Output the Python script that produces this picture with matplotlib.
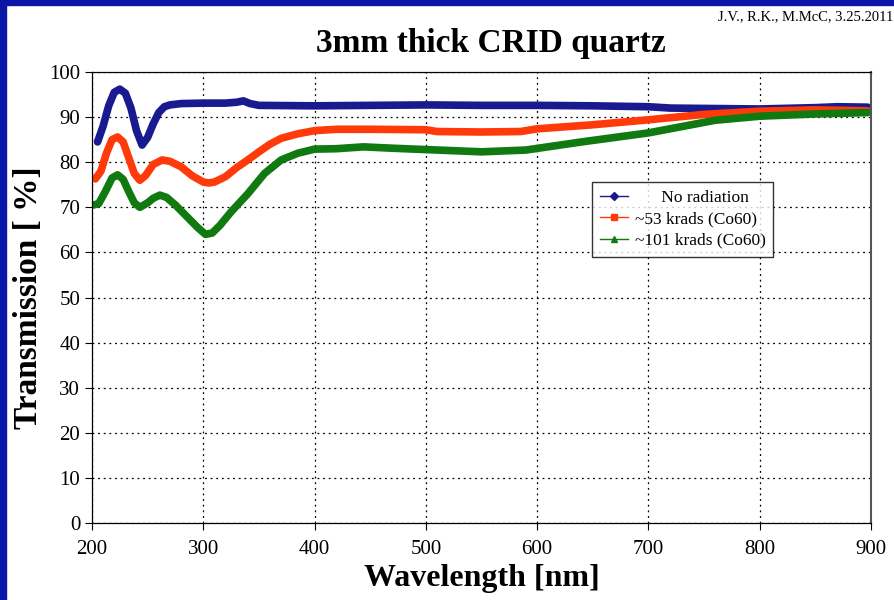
from matplotlib import pyplot as plt
from matplotlib.lines import Line2D

# Datos
wl_none = [205, 210, 215, 220, 225, 230, 235, 240, 245, 250, 255, 260, 265, 270, 280, 300,
           320, 330, 336, 342, 350, 400, 450, 500, 550, 600, 650, 700, 720, 800, 850, 870, 897]
t_none = [84.5, 88, 92.5, 95.5, 96.2, 95.3, 92, 87, 83.8, 85.5, 88.5, 91, 92.3, 92.7, 93, 93.1,
          93.1, 93.3, 93.6, 93.0, 92.6, 92.5, 92.6, 92.7, 92.6, 92.6, 92.5, 92.3, 92.0, 91.8, 92.1, 92.3, 92.2]

wl_53 = [203, 208, 213, 218, 223, 228, 233, 238, 243, 248, 255, 263, 270, 280, 290, 300, 305, 310,
         320, 330, 340, 350, 360, 370, 385, 400, 420, 450, 500, 510, 550, 585, 600, 650, 700, 750,
         800, 850, 897]
t_53 = [76.3, 78, 82, 85, 85.6, 84.5, 81, 77.5, 76, 77, 79.5, 80.5, 80.2, 79, 77, 75.6, 75.4, 75.6,
        76.8, 78.8, 80.5, 82.3, 84, 85.3, 86.3, 87.0, 87.3, 87.3, 87.2, 86.8, 86.7, 86.8, 87.4, 88.3,
        89.4, 90.6, 91.3, 91.6, 91.4]

wl_101 = [201, 206, 212, 218, 223, 228, 233, 238, 243, 250, 255, 261, 267, 275, 285, 295, 302, 308,
          315, 325, 340, 355, 370, 385, 400, 420, 444, 470, 500, 550, 590, 640, 700, 760, 800, 850, 897]
t_101 = [70.5, 70.8, 73.5, 76.5, 77.2, 76.2, 73.5, 71, 70, 71, 72, 72.7, 72.2, 70.5, 68, 65.5, 64, 64.3,
         66, 69, 73, 77.5, 80.5, 82, 82.9, 83, 83.4, 83.1, 82.8, 82.3, 82.7, 84.5, 86.5, 89.3, 90.2, 90.7, 91]

etiquetas = ['      No radiation', '~53 krads (Co60)', '~101 krads (Co60)']
colores = ['#1a1a90', '#ff3a0a', '#107a10']
marcadores = ['D', 's', '^']

plt.rcParams['font.family'] = ['Liberation Serif', 'DejaVu Serif']

fig = plt.figure(figsize=(8.94, 6), dpi=100)
# borde azul de la diapositiva
fig.patches.append(plt.Rectangle((0, 0), 6 / 894, 1, transform=fig.transFigure,
                                 color='#0a17a6', zorder=0))
fig.patches.append(plt.Rectangle((0, 1 - 5 / 600), 1, 5 / 600, transform=fig.transFigure,
                                 color='#0a17a6', zorder=0))

ax = fig.add_axes([0.1029, 0.1283, 0.8714, 0.7517])
for x, y, c in zip([wl_none, wl_53, wl_101], [t_none, t_53, t_101], colores):
    ax.plot(x, y, color=c, lw=5.5, solid_capstyle='round', solid_joinstyle='round')

ax.set_xlim(200, 900)
ax.set_ylim(0, 100)
ax.set_xticks(range(200, 901, 100))
ax.set_yticks(range(0, 101, 10))
ax.grid(True, color='black', linestyle=(0, (1.5, 3)), linewidth=0.9)
ax.tick_params(direction='out', length=5, labelsize=15, width=0.8)
ax.tick_params(axis='x', pad=7)
for s in ax.spines.values():
    s.set_linewidth(0.9)
ax.spines['right'].set_color('#555555')
ax.spines['right'].set_linewidth(1.5)

ax.set_xlabel('Wavelength [nm]', fontsize=23, fontweight='bold', labelpad=4)
ax.set_ylabel('Transmission [ %]', fontsize=24, fontweight='bold', labelpad=4)
fig.text(0.549, 0.928, '3mm thick CRID quartz', ha='center', va='center',
         fontsize=24, fontweight='bold')
fig.text(0.803, 0.972, 'J.V., R.K., M.McC, 3.25.2011', ha='left', va='center', fontsize=10.5)

handles = [Line2D([], [], color=c, marker=m, markersize=4.5, lw=1)
           for c, m in zip(colores, marcadores)]
leg = ax.legend(handles, etiquetas, loc='upper left', bbox_to_anchor=(0.642, 0.756),
                borderaxespad=0, fontsize=12.5, frameon=True, fancybox=False, edgecolor='black',
                handlelength=1.6, handletextpad=0.4, borderpad=0.45, labelspacing=0.3)
leg.get_frame().set_linewidth(1.0)

plt.savefig('out.png', dpi=100)
